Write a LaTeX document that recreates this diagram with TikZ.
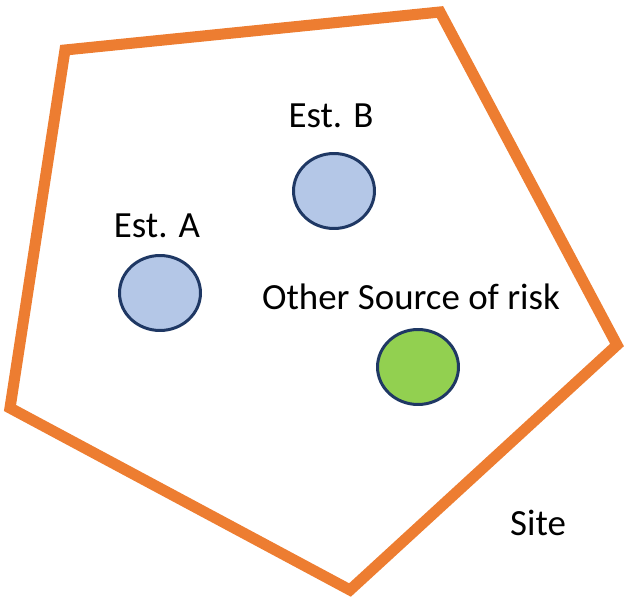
\documentclass[tikz,border=0pt]{standalone}
\usepackage{xcolor}
\usepackage{fontspec}
\setmainfont{Carlito}
\usepackage{tikz}
\usetikzlibrary{positioning,shapes,calc}

\definecolor{siteorange}{HTML}{ED7D31}
\definecolor{estblue}{HTML}{B4C7E7}
\definecolor{riskgreen}{HTML}{92D050}
\definecolor{navy}{HTML}{1F3864}

\tikzset{
    estnode/.style={ellipse, draw=navy, line width=1.7pt, fill=estblue, minimum width=1.62cm, minimum height=1.5cm, inner sep=0pt},
    risknode/.style={estnode, fill=riskgreen},
    lbl/.style={font=\fontsize{21}{25}\selectfont, inner sep=0pt}
}

\begin{document}
\begin{tikzpicture}[x=0.02cm, y=-0.02cm]
    \useasboundingbox (0,0) rectangle (629,605);
    % site boundary
    \draw[siteorange, line width=6.3pt, line join=miter] (65,50) -- (440,12) -- (617,345) -- (350,590) -- (10,408) -- cycle;
    
    \node[estnode] (estA) at (160,293) {};
    \node[estnode] (estB) at (334,191) {};
    \node[risknode] (risk) at (418,367) {};
    
    \node[lbl] (lblA) at (157,226) {Est. A};
    \node[lbl] (lblB) at (331,116) {Est. B};
    \node[lbl] (lblR) at (411,297) {Other Source of risk};
    \node[lbl] (site) at (538,523) {Site};
\end{tikzpicture}
\end{document}
